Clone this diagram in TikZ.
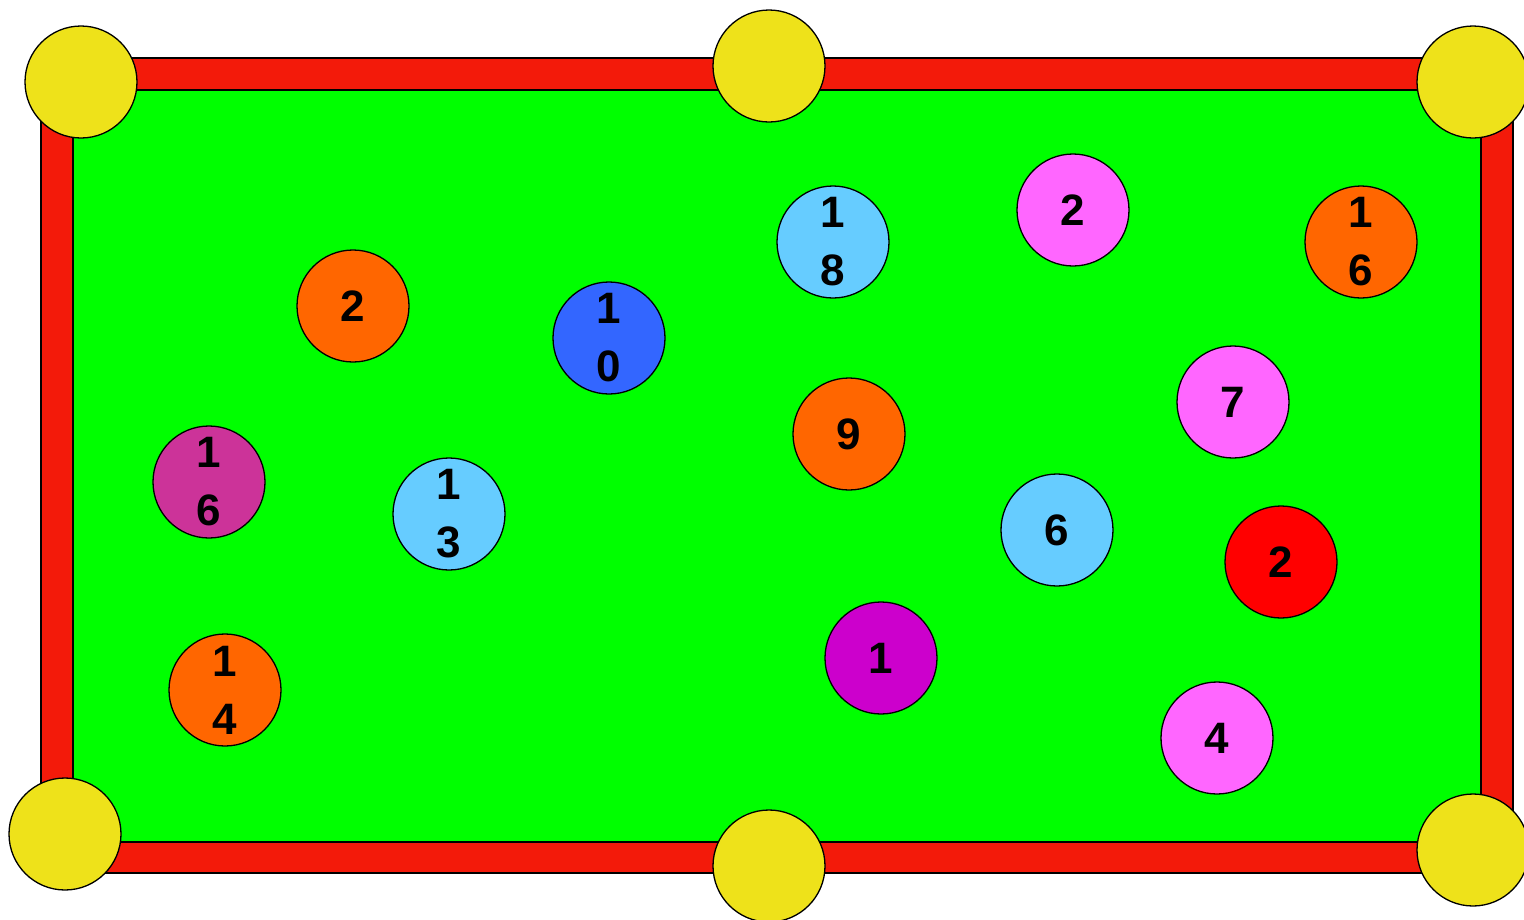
\documentclass[tikz,border=0pt]{standalone}
\usepackage{fontspec}
\setmainfont{Liberation Sans}
\definecolor{felt}{HTML}{00FF00}
\definecolor{rail}{HTML}{F31A0A}
\definecolor{pocketc}{HTML}{EEE21A}
\definecolor{orangeb}{HTML}{FF6600}
\definecolor{pinkb}{HTML}{FF66FF}
\definecolor{lblueb}{HTML}{66CCFF}
\definecolor{blueb}{HTML}{3366FF}
\definecolor{purpleb}{HTML}{CC3399}
\definecolor{magb}{HTML}{CC00CC}
\definecolor{redb}{HTML}{FF0000}
\begin{document}
\begin{tikzpicture}[x=1pt,y=-1pt,line width=1.3pt,
  ball/.style={circle,draw=black,minimum size=112pt,inner sep=0pt,align=center,
    font=\fontsize{44}{58}\selectfont\bfseries},
  pocket/.style={circle,draw=black,fill=pocketc,minimum size=112pt,inner sep=0pt}]
\useasboundingbox (0,0) rectangle (1524,919);
\begin{scope}
\clip (0,0) rectangle (1524,919);
\path[draw=black,fill=rail] (41,58) rectangle (1513,873);
\path[draw=black,fill=felt] (73,90) rectangle (1481,842);
\node[pocket] (p1) at (81,82) {};
\node[pocket] (p2) at (769,66) {};
\node[pocket] (p3) at (1473,82) {};
\node[pocket] (p4) at (65,834) {};
\node[pocket] (p5) at (769,866) {};
\node[pocket] (p6) at (1473,850) {};
\end{scope}
\node[ball,fill=orangeb] (b1) at (353,306) {2};
\node[ball,fill=blueb] (b2) at (609,338) {1\\0};
\node[ball,fill=lblueb] (b3) at (833,242) {1\\8};
\node[ball,fill=pinkb] (b4) at (1073,210) {2};
\node[ball,fill=orangeb] (b5) at (1361,242) {1\\6};
\node[ball,fill=pinkb] (b6) at (1233,402) {7};
\node[ball,fill=orangeb] (b7) at (849,434) {9};
\node[ball,fill=purpleb] (b8) at (209,482) {1\\6};
\node[ball,fill=lblueb] (b9) at (449,514) {1\\3};
\node[ball,fill=lblueb] (b10) at (1057,530) {6};
\node[ball,fill=redb] (b11) at (1281,562) {2};
\node[ball,fill=magb] (b12) at (881,658) {1};
\node[ball,fill=orangeb] (b13) at (225,690) {1\\4};
\node[ball,fill=pinkb] (b14) at (1217,738) {4};
\end{tikzpicture}
\end{document}
